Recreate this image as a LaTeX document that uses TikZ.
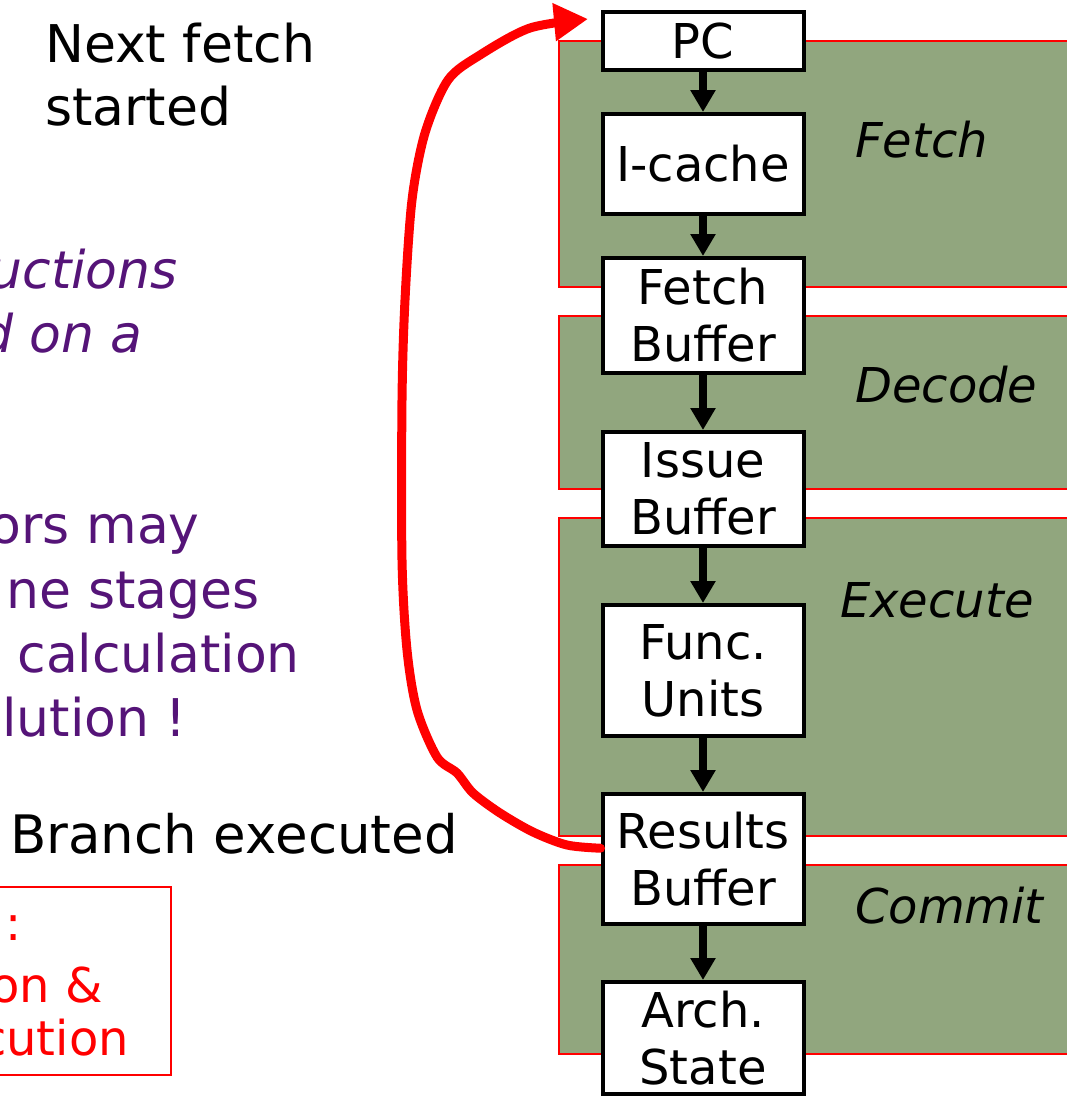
\documentclass[tikz,border=0pt]{standalone}
\usepackage{fontspec}
\setmainfont{DejaVu Sans}
\usetikzlibrary{arrows.meta,positioning}

\definecolor{stagegreen}{RGB}{145,166,126}
\definecolor{notepurple}{RGB}{85,20,120}

\tikzset{
  stage/.style = {fill=stagegreen, draw=red, line width=1.5pt},
  unit/.style = {rectangle, draw, line width=4pt, fill=white, minimum width=201pt, inner sep=0pt, align=center, font=\fontsize{48}{57}\selectfont},
  stagelabel/.style = {anchor=base west, inner sep=0pt, font=\fontsize{48}{58}\selectfont\itshape},
  note/.style = {anchor=base east, inner sep=0pt, font=\fontsize{52}{63}\selectfont},
  hint/.style = {anchor=base east, inner sep=0pt, red, font=\fontsize{48}{53}\selectfont},
  flow/.style = {line width=8pt, -{Triangle[width=24pt,length=22pt]}},
  feedback/.style = {red, line width=9pt, line cap=round, -{Triangle[width=36pt,length=34pt]}}
}

\begin{document}
\begin{tikzpicture}[x=1pt, y=-1pt]
  \useasboundingbox (0,0) rectangle (1067,1096);

  % pipeline stages
  \draw[stage] (559,41) rectangle (1080,287);
  \draw[stage] (559,316) rectangle (1080,489);
  \draw[stage] (559,518) rectangle (1080,836);
  \draw[stage] (559,865) rectangle (1080,1054);

  \node[stagelabel] (fetchlbl) at (855,157) {Fetch};
  \node[stagelabel] (decodelbl) at (855,402) {Decode};
  \node[stagelabel] (executelbl) at (840,617) {Execute};
  \node[stagelabel] (commitlbl) at (855,923) {Commit};

  % units
  \node[unit, minimum height=58pt] (pc) at (703,41) {PC};
  \node[unit, minimum height=100pt, below=40pt of pc] (icache) {I-cache};
  \node[unit, minimum height=115pt, below=40pt of icache] (fetchbuf) {Fetch\\Buffer};
  \node[unit, minimum height=114pt, below=55pt of fetchbuf] (issuebuf) {Issue\\Buffer};
  \node[unit, minimum height=131pt, below=55pt of issuebuf] (funcunits) {Func.\\Units};
  \node[unit, minimum height=130pt, below=54pt of funcunits] (results) {Results\\Buffer};
  \node[unit, minimum height=112pt, below=54pt of results] (archstate) {Arch.\\State};

  \draw[flow] (pc) -- (icache);
  \draw[flow] (icache) -- (fetchbuf);
  \draw[flow] (fetchbuf) -- (issuebuf);
  \draw[flow] (issuebuf) -- (funcunits);
  \draw[flow] (funcunits) -- (results);
  \draw[flow] (results) -- (archstate);

  % left side notes
  \node[note, anchor=base west, align=left] (nextfetch) at (45,125) {Next fetch\\started};
  \node[note, anchor=base west, font=\fontsize{53}{63}\selectfont] (branchex) at (10,853) {Branch executed};

  \node[note, notepurple, font=\fontsize{52}{63}\selectfont\itshape] (purple1) at (178,288) {uctions};
  \node[note, notepurple, font=\fontsize{52}{63}\selectfont\itshape] (purple2) at (143,352) {d on a};
  \node[note, notepurple] (purple3) at (200,543) {ors may};
  \node[note, notepurple] (purple4) at (260,608) {ne stages};
  \node[note, notepurple] (purple5) at (300,672) {calculation};
  \node[note, notepurple] (purple6) at (187,736) {lution !};

  \draw[red, line width=1.5pt] (-10,887) rectangle (171,1075);
  \node[hint] (hint1) at (22,940) {:};
  \node[hint] (hint2) at (103,1002) {on \&};
  \node[hint] (hint3) at (129,1055) {cution};

  % redirect back to PC
  \coordinate (pcin) at (588,19);
  \draw[feedback] plot[smooth, tension=0.5] coordinates {(results.174) (567,845) (533,832) (500,813) (473,793) (457,773) (437,757) (417,710) (407,650) (402,560) (402,400) (405,300) (412,200) (425,133) (448,80) (480,55) (530,28) (pcin)};
\end{tikzpicture}
\end{document}
